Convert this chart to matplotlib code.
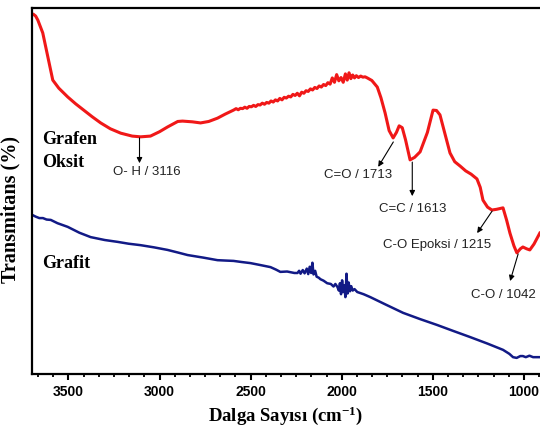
import matplotlib
matplotlib.use("Agg")
import matplotlib.pyplot as plt
from matplotlib.ticker import AutoMinorLocator

plt.rcParams['mathtext.fontset'] = 'custom'
plt.rcParams['mathtext.rm'] = 'Liberation Serif:bold'
plt.rcParams['mathtext.bf'] = 'Liberation Serif:bold'
plt.rcParams['mathtext.it'] = 'Liberation Serif:bold'

# ---- Data ----
go_wn = [3690, 3680, 3668, 3641, 3613, 3586, 3553, 3504, 3460, 3416, 3370, 3323, 3270, 3213, 3150,
         3104, 3050, 3000, 2956, 2900, 2874, 2820, 2775, 2730, 2682, 2640,
         2594, 2580, 2568, 2556, 2544, 2532, 2520, 2508, 2496, 2484, 2472, 2460, 2448, 2436, 2424,
         2412, 2400, 2388, 2376, 2364, 2352, 2340, 2328, 2316, 2304, 2292, 2280, 2268, 2256, 2244,
         2232, 2220, 2208, 2196, 2184, 2172, 2160, 2148, 2136, 2124, 2112, 2100, 2088, 2076, 2064,
         2052, 2040, 2028, 2016, 2004, 1992, 1980, 1970, 1960, 1950, 1940, 1930, 1920, 1908, 1896,
         1884, 1872, 1860, 1835, 1805, 1785, 1762, 1740, 1718, 1700, 1685, 1668, 1650, 1625, 1600,
         1570, 1530, 1510, 1499, 1480, 1461, 1430, 1406, 1380, 1350, 1320, 1290, 1258, 1240, 1225,
         1200, 1176, 1150, 1115, 1095, 1077, 1055, 1039, 1020, 1006, 985, 968, 945, 913]
go_val = [98.2, 97.8, 96.7, 93.2, 86.6, 80.3, 78.1, 75.7, 73.8, 72.1, 70.3, 68.6, 67.0, 65.8, 65.0,
          64.8, 65.0, 66.2, 67.5, 69.0, 69.1, 68.9, 68.6, 69.0, 69.9, 71.0,
          72.1, 72.5, 72.2, 72.6, 72.5, 72.9, 72.6, 73.1, 73.0, 73.4, 73.1, 73.6, 73.5, 74.0, 73.7,
          74.2, 74.0, 74.6, 74.3, 74.9, 74.6, 75.3, 74.9, 75.6, 75.4, 75.9, 75.7, 76.4, 76.1, 76.7,
          76.0, 77.0, 76.7, 77.4, 77.2, 77.9, 77.6, 78.3, 78.0, 78.7, 78.4, 79.1, 78.8, 79.6, 79.2,
          80.9, 79.7, 81.8, 80.1, 81.0, 79.7, 82.0, 80.3, 82.3, 80.7, 81.7, 80.9, 81.5, 81.0, 81.4,
          81.1, 81.2, 80.9, 80.2, 78.4, 75.5, 71.3, 66.5, 64.5, 66.0, 67.8, 67.3, 64.0, 58.5, 59.2,
          60.7, 66.0, 70.0, 72.1, 72.0, 70.8, 65.0, 60.4, 58.0, 56.8, 55.5, 54.6, 53.3, 51.0, 47.5,
          45.6, 44.8, 45.0, 45.4, 42.0, 38.5, 35.0, 33.1, 34.2, 34.7, 34.2, 33.9, 35.5, 38.5]

gr_wn = [3696, 3680, 3660, 3640, 3620, 3597, 3560, 3504, 3440, 3378, 3300, 3230, 3170, 3104, 3030,
         2956, 2900, 2846, 2760, 2682, 2640, 2594, 2550, 2501, 2450, 2391, 2360, 2337, 2300, 2260,
         2243, 2234, 2226, 2214, 2204, 2192, 2184, 2176, 2168, 2161, 2155, 2146, 2138, 2126, 2117,
         2100, 2080, 2060, 2045, 2035, 2024, 2016, 2010, 2004, 1998, 1992, 1986, 1980, 1974, 1968,
         1962, 1955, 1948, 1940, 1930, 1915, 1880, 1843, 1760, 1663, 1570, 1477, 1390, 1296, 1200,
         1115, 1080, 1060, 1040, 1020, 1006, 990, 970, 950, 913]
gr_val = [43.4, 43.0, 42.6, 42.6, 42.2, 42.1, 41.2, 40.2, 38.6, 37.4, 36.6, 36.1, 35.6, 35.2, 34.6,
          33.9, 33.2, 32.5, 31.8, 31.1, 31.0, 30.9, 30.6, 30.3, 29.8, 29.2, 28.5, 27.9, 28.0, 27.6,
          27.6, 28.2, 27.4, 28.4, 27.5, 28.8, 27.3, 29.3, 27.6, 30.4, 27.2, 28.2, 26.6, 26.3, 25.9,
          25.5, 24.8, 24.6, 23.9, 24.6, 23.8, 22.8, 24.8, 21.8, 25.6, 22.4, 24.2, 21.0, 27.4, 22.0,
          25.0, 22.6, 24.0, 22.8, 23.2, 22.4, 21.8, 21.0, 19.0, 16.7, 15.0, 13.4, 11.8, 10.1, 8.3,
          6.6, 5.5, 4.6, 4.4, 4.9, 4.9, 4.6, 5.0, 4.6, 4.6]

peak_wn = [3116, 1713, 1613, 1215, 1042]
peak_names = ['O- H', 'C=O', 'C=C', 'C-O Epoksi', 'C-O']
x_ticks = [3500, 3000, 2500, 2000, 1500, 1000]

# ---- Figure ----
fig = plt.figure(figsize=(5.40, 4.26), dpi=100)
ax = fig.add_axes([32/540, 1 - 374/426, 508/540, 366/426])

ax.plot(go_wn, go_val, color='#f01818', lw=2.2, solid_joinstyle='round')
ax.plot(gr_wn, gr_val, color='#121a86', lw=1.8, solid_joinstyle='round')

ax.set_xlim(3700, 912)
ax.set_ylim(0, 100)

for s in ['left', 'top', 'bottom']:
    ax.spines[s].set_linewidth(1.6)
ax.spines['right'].set_visible(False)

ax.set_xticks(x_ticks)
ax.xaxis.set_minor_locator(AutoMinorLocator(6))
ax.set_yticks([])
ax.tick_params(axis='x', which='major', direction='out', length=4, width=1.5, pad=4)
ax.tick_params(axis='x', which='minor', direction='out', length=2.5, width=1.3)
for lab in ax.get_xticklabels():
    lab.set_fontfamily('Liberation Sans')
    lab.set_fontweight('bold')
    lab.set_fontsize(10)

ax.set_xlabel('Dalga Sayısı (cm$^{-1}$)', fontfamily='Liberation Serif', fontweight='bold',
              fontsize=13.5, labelpad=4)
ax.set_ylabel('Transmitans (%)', fontfamily='Liberation Serif', fontweight='bold', fontsize=14.5)
ax.yaxis.set_label_coords(-0.0225, 0.45)

# Series labels
serif = dict(fontfamily='Liberation Serif', fontweight='bold', fontsize=13, ha='left', va='center',
             transform=ax.get_yaxis_transform())
ax.text(0.02, 64.2, 'Grafen', **serif)
ax.text(0.02, 57.9, 'Oksit', **serif)
ax.text(0.02, 30.3, 'Grafit', **serif)

# Peak annotations: (tail, head, text position) in data coordinates
tails = [(3110, 64.5), (1717, 63.4), (1613, 57.9), (1175, 44.5), (1032, 32.8)]
heads = [(3110, 57.6), (1800, 56.6), (1613, 48.6), (1257, 38.5), (1076, 25.4)]
txts = [(3071, 55.2), (1909, 54.4), (1608, 45.1), (1477, 35.2), (1115, 21.6)]
for name, wn, t, h, p in zip(peak_names, peak_wn, tails, heads, txts):
    ax.annotate('', xy=h, xytext=t,
                arrowprops=dict(arrowstyle='-|>', color='black', lw=0.8,
                                mutation_scale=8, shrinkA=0, shrinkB=0))
    ax.text(p[0], p[1], f'{name} / {wn}', fontfamily='Liberation Sans', fontsize=9.5,
            ha='center', va='center', color='#222222')

fig.savefig('out.png', dpi=100)
